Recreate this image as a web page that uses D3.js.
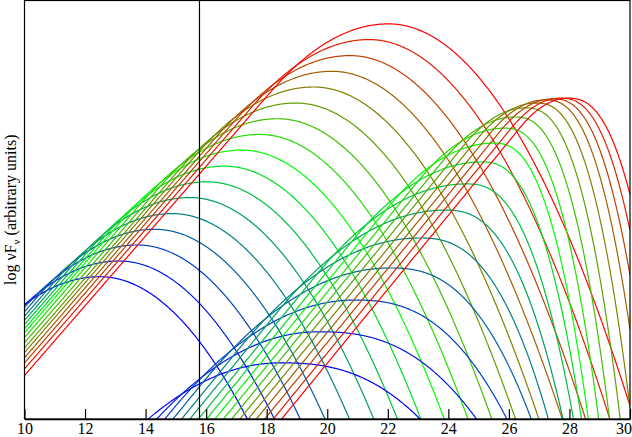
<!DOCTYPE html>
<html><head><meta charset="utf-8">
<script src="https://cdn.jsdelivr.net/npm/d3@7"></script>
<style>body{margin:0;background:#fff}svg{display:block}</style>
</head><body><svg id="c" width="632" height="437"></svg>
<script>
// ---- data (log nu on x, arbitrary log nuF_nu on y) ----
const xTicks = [10, 12, 14, 16, 18, 20, 22, 24, 26, 28, 30];
const markerX = 15.78;

// synchrotron components: peak positions
const syncPeakX = [12.49, 13.12, 13.72, 14.30, 14.88, 15.46, 16.03, 16.60, 17.17, 17.76, 18.36, 18.96, 19.55, 20.15, 20.75, 21.38, 22.02];
const syncPeakY = [4.08, 4.53, 4.99, 5.44, 5.89, 6.35, 6.80, 7.25, 7.71, 8.16, 8.61, 9.06, 9.52, 9.97, 10.42, 10.88, 11.33];
const syncLeftCurv = 0.129, syncRightCurv = 0.172, syncSlope = 1.0;

// inverse Compton components
const icPeakX = [18.44, 19.70, 20.90, 22.07, 23.06, 23.90, 24.60, 25.10, 25.50, 25.85, 26.20, 26.55, 26.90, 27.20, 27.45, 27.70, 27.95];
const icPeakY = [1.61, 2.50, 3.41, 4.33, 5.19, 5.99, 6.74, 7.37, 7.91, 8.34, 8.66, 8.92, 9.06, 9.15, 9.18, 9.20, 9.20];
const icLeftCurv = [0.085, 0.088, 0.087, 0.086, 0.089, 0.095, 0.106, 0.124, 0.151, 0.187, 0.222, 0.258, 0.273, 0.290, 0.307, 0.327, 0.338];
const icRightCoef = [0.035, 0.040, 0.060, 0.092, 0.140, 0.201, 0.287, 0.373, 0.459, 0.487, 0.502, 0.516, 0.516, 0.502, 0.487, 0.473, 0.459];
const icSlope = 1.061, icRightPow = 2.5;

// ---- layout ----
const L = 24.5, R = 630, T = 0.5, B = 419;
const FONT = "'Liberation Serif', 'DejaVu Serif', 'Times New Roman', serif";
const svg = d3.select("#c");
const x = d3.scaleLinear().domain([10, 30]).range([L, R]);
const y = d3.scaleLinear().domain([0, 12]).range([B, T]);
const color = d3.scaleLinear().domain([0, 8, 16]).range(["#0000ff", "#00ff00", "#ff0000"]).interpolate(d3.interpolateRgb);

svg.append("defs").append("clipPath").attr("id", "clip")
  .append("rect").attr("x", L).attr("y", T).attr("width", R - L).attr("height", B - T);

function leftDrop(a, bl, s) {
  const dL = s / (2 * bl);
  return a <= dL ? bl * a * a : bl * dL * dL + s * (a - dL);
}
const xs = d3.range(10, 30.0001, 0.02);
const line = d3.line().x(d => x(d[0])).y(d => y(d[1]));
const g = svg.append("g").attr("clip-path", "url(#clip)");

function curve(peakX, peakY, rightFn, bl, s) {
  return xs.map(v => {
    const d = v - peakX;
    const drop = d < 0 ? leftDrop(-d, bl, s) : rightFn(d);
    return [v, peakY - drop];
  }).filter(p => p[1] > -3);
}

syncPeakX.forEach((px, i) => {
  g.append("path")
    .attr("d", line(curve(px, syncPeakY[i], d => syncRightCurv * d * d, syncLeftCurv, syncSlope)))
    .attr("fill", "none").attr("stroke", color(i)).attr("stroke-width", 1.2);
});
icPeakX.forEach((px, i) => {
  g.append("path")
    .attr("d", line(curve(px, icPeakY[i], d => icRightCoef[i] * Math.pow(d, icRightPow), icLeftCurv[i], icSlope)))
    .attr("fill", "none").attr("stroke", color(i)).attr("stroke-width", 1.2);
});

// marker line
svg.append("line").attr("x1", x(markerX)).attr("x2", x(markerX)).attr("y1", T).attr("y2", B)
  .attr("stroke", "#000").attr("stroke-width", 1.2);

// frame
svg.append("rect").attr("x", L).attr("y", T).attr("width", R - L).attr("height", B - T)
  .attr("fill", "none").attr("stroke", "#000").attr("stroke-width", 1.2);

// bottom axis
const axis = d3.axisBottom(x).tickValues(xTicks).tickSizeInner(-10).tickSizeOuter(0).tickPadding(4);
const ag = svg.append("g").attr("transform", `translate(0,${B})`).call(axis);
ag.attr("font-family", null).attr("font-size", null);
ag.select(".domain").attr("stroke", "#000").attr("stroke-width", 1.5);
ag.selectAll(".tick line").attr("stroke", "#000").attr("stroke-width", 1.2);
ag.selectAll(".tick text").style("font-family", FONT).style("font-size", "16px").attr("fill", "#000");
ag.selectAll(".tick").filter(d => d === 30).select("text").attr("text-anchor", "end").attr("dx", "0.1em");

// y label
const yl = svg.append("text").attr("transform", `translate(16,${(T + B) / 2}) rotate(-90)`)
  .attr("text-anchor", "middle").style("font-family", FONT).style("font-size", "16px").attr("fill", "#000");
yl.append("tspan").text("log νF");
yl.append("tspan").style("font-size", "11px").attr("dy", 4).text("ν");
yl.append("tspan").attr("dy", -4).text(" (arbitrary units)");
</script>
</body></html>
